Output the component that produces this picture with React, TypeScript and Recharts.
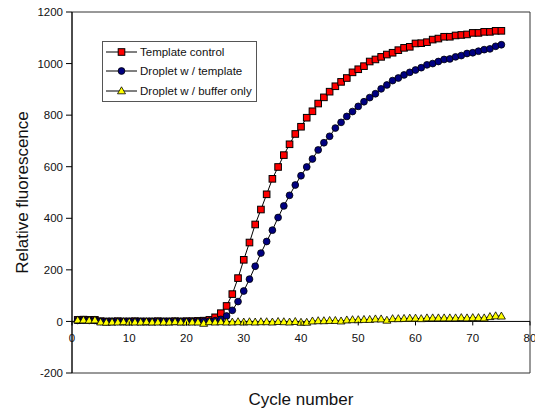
import React from 'react';
import { LineChart, Line, XAxis, YAxis, ReferenceLine, ReferenceArea, Legend } from 'recharts';

const cycles = Array.from({ length: 75 }, (_, i) => i + 1);

const templateControl = [
  6, 7, 6, 6, 1, 0, 0, 1, 0, 0, 1, 0, 0, 0, 1, 0, 0, 1, 0, 1, 1, 2,
  3, 6, 16, 32, 60, 106, 168, 239, 306, 376, 434, 493, 553, 599, 645, 687, 727, 755,
  790, 815, 845, 869, 891, 912, 929, 944, 966, 978, 990, 1008, 1016, 1026, 1035, 1042,
  1052, 1061, 1065, 1078, 1079, 1083, 1093, 1097, 1104, 1104, 1109, 1111, 1113, 1119,
  1119, 1123, 1123, 1127, 1127,
];

const dropletTemplate = [
  4, 5, 4, 4, 0, -1, 0, 0, -1, 0, 0, 0, -1, 0, 0, 0, 0, 0, 0, 0, 0, 0,
  0, 1, 3, 8, 21, 43, 77, 118, 164, 214, 265, 310, 354, 403, 448, 489, 529, 565,
  599, 630, 665, 693, 718, 750, 772, 795, 814, 834, 852, 868, 883, 902, 917, 934,
  944, 956, 966, 975, 984, 995, 1000, 1008, 1016, 1018, 1026, 1031, 1039, 1042,
  1048, 1054, 1057, 1067, 1073,
];

const dropletBuffer = [
  5, 5, 4, 5,
  -3, -4, -3, -3, -2, -3, -3, -3, -2, -3, -3, -3, -3, -2, -3, -3, -3, -3,
  -8,
  -2, -3, -2, -3, -3, -2, -3, -2, -3, -2, -2, -3,
  -1, -2, -3, -1, -4, -4,
  1, 2, 2, 3, 3, 1, 5, 6, 6,
  7, 7, 9, 9, 4,
  10, 10, 11, 12, 12,
  10, 13, 13, 13, 13, 13, 13, 14, 13, 14, 14, 13,
  18, 21, 20,
];

const xTicks = [0, 10, 20, 30, 40, 50, 60, 70, 80];
const yTicks = [-200, 0, 200, 400, 600, 800, 1000, 1200];
const seriesNames = ['Template control', 'Droplet w / template', 'Droplet w / buffer only'];

const data = cycles.map((c, i) => ({
  cycle: c,
  tc: templateControl[i],
  dt: dropletTemplate[i],
  db: dropletBuffer[i],
}));

const W = 535;
const H = 411;
const TOP = 12;
const X_AXIS_H = 38;
const Y_AXIS_W = 72;
const PLOT_H = H - TOP - X_AXIS_H;
const Y_MIN = -200;
const Y_MAX = 1200;
const ZERO_Y = TOP + (PLOT_H * Y_MAX) / (Y_MAX - Y_MIN);
const FONT = '"Liberation Sans", Arial, sans-serif';

const Square = ({ cx, cy, k }: any) => (
  <rect key={k} x={cx - 3.3} y={cy - 3.3} width={6.6} height={6.6} fill="#ff0000" stroke="#000" strokeWidth={1} />
);
const Circle = ({ cx, cy, k }: any) => (
  <circle key={k} cx={cx} cy={cy} r={3.4} fill="#000080" stroke="#000" strokeWidth={0.8} />
);
const Triangle = ({ cx, cy, k }: any) => (
  <path key={k} d={`M${cx},${cy - 4.2} L${cx + 4},${cy + 2.8} L${cx - 4},${cy + 2.8} Z`} fill="#ffff00" stroke="#000" strokeWidth={0.8} />
);
const markers = [Square, Circle, Triangle];

const CycleTick = (props: any) => {
  const { x, payload } = props;
  return (
    <g>
      <line x1={x} x2={x} y1={ZERO_Y} y2={ZERO_Y + 4} stroke="#000" />
      <text x={x} y={ZERO_Y + 21} textAnchor="middle" fontSize={11.5} fill="#111">
        {payload.value}
      </text>
    </g>
  );
};

const LegendBox = () => (
  <div style={{ width: 153, border: '1px solid #555', background: '#fff', fontFamily: FONT, fontSize: 11.5, color: '#111' }}>
    {seriesNames.map((name, i) => {
      const M = markers[i];
      return (
        <div key={name} style={{ display: 'flex', alignItems: 'center', height: 19.5 }}>
          <svg width={31} height={12} style={{ marginLeft: 3 }}>
            <line x1={0} x2={31} y1={6} y2={6} stroke="#000" />
            <M cx={15.5} cy={6} />
          </svg>
          <span style={{ marginLeft: 3, whiteSpace: 'nowrap' }}>{name}</span>
        </div>
      );
    })}
  </div>
);

export default function App() {
  return (
    <div style={{ position: 'absolute', left: 0, top: 0, width: W, height: H, background: '#fff', fontFamily: FONT }}>
      <LineChart width={W} height={H} data={data} margin={{ top: TOP, right: 5, bottom: 0, left: 0 }}>
        <ReferenceArea x1={0} x2={80} y1={Y_MIN} y2={Y_MAX} fill="none" stroke="#333" strokeWidth={1} />
        <XAxis
          dataKey="cycle"
          type="number"
          domain={[0, 80]}
          ticks={xTicks}
          interval={0}
          height={X_AXIS_H}
          axisLine={false}
          tickLine={false}
          tick={<CycleTick />}
          label={{
            content: ({ viewBox }: any) => (
              <text x={viewBox.x + viewBox.width / 2} y={viewBox.y + 32} textAnchor="middle" fontSize={17} fill="#111">
                Cycle number
              </text>
            ),
          }}
        />
        <YAxis
          type="number"
          domain={[Y_MIN, Y_MAX]}
          ticks={yTicks}
          interval={0}
          width={Y_AXIS_W}
          tickSize={6}
          tickMargin={3}
          axisLine={{ stroke: '#000' }}
          tickLine={{ stroke: '#000' }}
          tick={{ fill: '#111', fontSize: 11.5 }}
          label={{
            content: ({ viewBox }: any) => {
              const cx = 28;
              const cy = viewBox.y + viewBox.height / 2;
              return (
                <text x={cx} y={cy} transform={`rotate(-90 ${cx} ${cy})`} textAnchor="middle" fontSize={17} fill="#111">
                  Relative fluorescence
                </text>
              );
            },
          }}
        />
        <ReferenceLine y={0} stroke="#000" strokeWidth={1} />
        <Legend
          verticalAlign="middle"
          align="center"
          content={<LegendBox />}
          wrapperStyle={{ left: 102, top: 41, width: 155 }}
        />
        <Line
          dataKey="tc"
          name={seriesNames[0]}
          stroke="#000"
          strokeWidth={1}
          isAnimationActive={false}
          dot={(p: any) => <Square key={`a${p.index}`} k={`a${p.index}`} cx={p.cx} cy={p.cy} />}
        />
        <Line
          dataKey="dt"
          name={seriesNames[1]}
          stroke="#000"
          strokeWidth={1}
          isAnimationActive={false}
          dot={(p: any) => <Circle key={`b${p.index}`} k={`b${p.index}`} cx={p.cx} cy={p.cy} />}
        />
        <Line
          dataKey="db"
          name={seriesNames[2]}
          stroke="#000"
          strokeWidth={1}
          isAnimationActive={false}
          dot={(p: any) => <Triangle key={`c${p.index}`} k={`c${p.index}`} cx={p.cx} cy={p.cy} />}
        />
      </LineChart>
    </div>
  );
}
